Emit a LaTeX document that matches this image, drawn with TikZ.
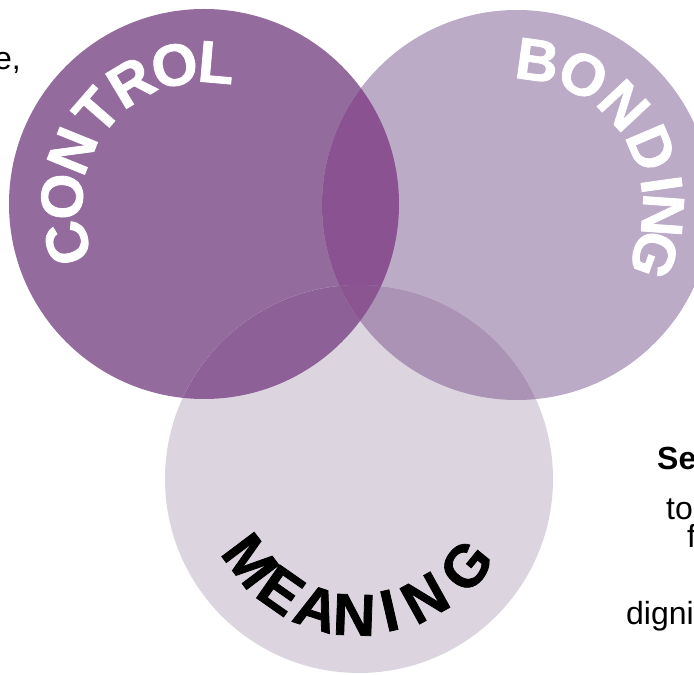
\documentclass[tikz,border=0pt]{standalone}
\usepackage{fontspec}
\setmainfont{Liberation Sans}
\newfontface\heavyface{Liberation Sans Bold}[FakeBold=1.3]
\begin{document}
\begin{tikzpicture}[x=1pt,y=1pt,
  lettw/.style={text=white,font=\fontsize{59}{62}\heavyface,inner sep=0pt,anchor=center},
  lettb/.style={text=black,font=\fontsize{59}{62}\heavyface,inner sep=0pt,anchor=center},
  side/.style={text=black,font=\fontsize{32}{36}\selectfont,inner sep=0pt}]
\definecolor{cctrl}{HTML}{936C9D}
\definecolor{cbond}{HTML}{BCABC7}
\definecolor{cmean}{HTML}{DCD5DF}
\definecolor{ccb}{HTML}{8A5290}
\definecolor{ccm}{HTML}{8D6198}
\definecolor{cbm}{HTML}{AB93B5}
\definecolor{ccbm}{HTML}{8B5592}
\useasboundingbox (0,0) rectangle (694,675);
\clip (0,0) rectangle (694,675);
\coordinate (c1) at (204,471);
\coordinate (c2) at (517,470);
\coordinate (c3) at (359,196);
\fill[cctrl] (c1) circle[radius=195];
\fill[cbond] (c2) circle[radius=195];
\fill[cmean] (c3) circle[radius=194];
\begin{scope}
  \clip (c1) circle[radius=195];
  \fill[ccb] (c2) circle[radius=195];
  \fill[ccm] (c3) circle[radius=194];
\end{scope}
\begin{scope}
  \clip (c2) circle[radius=195];
  \fill[cbm] (c3) circle[radius=194];
\end{scope}
\begin{scope}
  \clip (c1) circle[radius=195];
  \clip (c2) circle[radius=195];
  \fill[ccbm] (c3) circle[radius=194];
\end{scope}
% CONTROL
\foreach \a/\l [count=\i] in {196/C,177/O,158/N,139/T,121/R,102/O,85/L}
  \node[lettw,rotate=\a-90] (ctrl\i) at ([shift={(c1)}]\a:142) {\l};
% BONDING
\foreach \a/\l [count=\i] in {82/B,63/O,43/N,23/D,8/I,-4/N,-20/G}
  \node[lettw,rotate=\a-90] (bond\i) at ([shift={(c2)}]\a:146) {\l};
% MEANING
\foreach \a/\l/\r [count=\i] in {217/M/136,235/E/136,252/A/136,268/N/136,283/I/135,299/N/136,321/G/138}
  \node[lettb,rotate=\a+90] (mean\i) at ([shift={(c3)}]\a:\r) {\l};
% cut-off side text
\node[side,anchor=base east] (t1) at (21,605) {e,};
\node[side,anchor=base west,font=\fontsize{32}{36}\selectfont\bfseries] (t2) at (657,205) {Se};
\node[side,anchor=base west] (t3) at (666,155) {to};
\node[side,anchor=base west] (t4) at (687,127) {f};
\node[side,anchor=base west] (t5) at (626,50) {digni};
\end{tikzpicture}
\end{document}
